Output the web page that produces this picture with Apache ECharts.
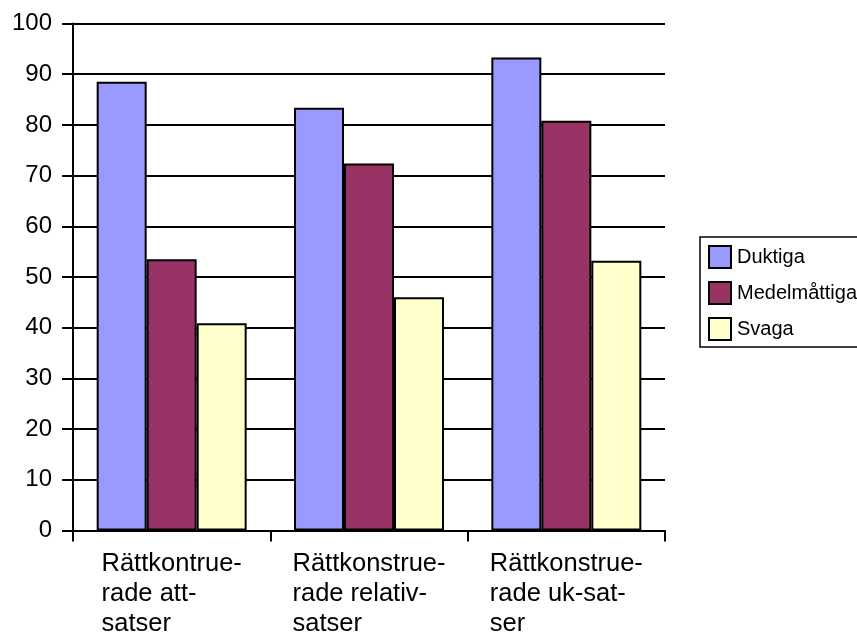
<!DOCTYPE html>
<html>
<head>
<meta charset="utf-8">
<script src="https://cdn.jsdelivr.net/npm/echarts@6/dist/echarts.min.js"></script>
<style>
html,body{margin:0;padding:0;background:#fff;}
#chart{width:857px;height:637px;}
</style>
</head>
<body>
<div id="chart"></div>
<script>
var categories = [
  ['Rättkontrue-', 'rade att-', 'satser'],
  ['Rättkonstrue-', 'rade relativ-', 'satser'],
  ['Rättkonstrue-', 'rade uk-sat-', 'ser']
];
var seriesNames = ['Duktiga', 'Medelmåttiga', 'Svaga'];
var duktiga = [88.5, 83.4, 93.3];
var medelmattiga = [53.5, 72.4, 80.8];
var svaga = [40.9, 46.0, 53.2];
var colors = ['#9999FF', '#993366', '#FFFFCC'];
var yTicks = [0, 10, 20, 30, 40, 50, 60, 70, 80, 90, 100];

var font = 'Liberation Sans, Arial, sans-serif';
var catLabels = categories.map(function (c) { return c.join('\n'); });
var values = [duktiga, medelmattiga, svaga];

var chart = echarts.init(document.getElementById('chart'), null, {renderer: 'canvas'});
chart.setOption({
  animation: false,
  backgroundColor: '#ffffff',
  textStyle: {fontFamily: font, color: '#000'},
  grid: {left: 73, right: 192, top: 23.5, bottom: 106.5, containLabel: false},
  legend: {
    orient: 'vertical',
    left: 700,
    top: 237,
    padding: [8, 8, 6, 8],
    borderColor: '#000',
    borderWidth: 1.5,
    backgroundColor: '#fff',
    borderRadius: 0,
    itemWidth: 22,
    itemHeight: 22,
    itemGap: 12,
    icon: 'rect',
    textStyle: {fontFamily: font, fontSize: 20, color: '#000', padding: [0, 0, 0, 1]},
    data: seriesNames
  },
  xAxis: {
    type: 'category',
    data: catLabels,
    boundaryGap: true,
    axisLine: {show: true, lineStyle: {color: '#000', width: 2}},
    axisTick: {show: true, length: 11, lineStyle: {color: '#000', width: 2}},
    axisLabel: {
      interval: 0,
      margin: 18,
      formatter: function (v) {
        return v.split('\n').map(function (l) { return '{a|' + l + '}'; }).join('\n');
      },
      rich: {
        a: {fontFamily: font, fontSize: 25.5, lineHeight: 30, color: '#000', align: 'left'}
      }
    },
    splitLine: {show: false}
  },
  yAxis: {
    type: 'value',
    min: yTicks[0],
    max: yTicks[yTicks.length - 1],
    interval: yTicks[1] - yTicks[0],
    axisLine: {show: true, lineStyle: {color: '#000', width: 2}},
    axisTick: {show: true, length: 11, lineStyle: {color: '#000', width: 2}},
    axisLabel: {fontFamily: font, fontSize: 24, color: '#000', margin: 21},
    splitLine: {show: true, lineStyle: {color: '#000', width: 2}}
  },
  series: seriesNames.map(function (name, i) {
    return {
      name: name,
      type: 'bar',
      data: values[i],
      barGap: '0%',
      barCategoryGap: '24%',
      itemStyle: {color: colors[i], borderColor: '#000', borderWidth: 2}
    };
  })
});
</script>
</body>
</html>
